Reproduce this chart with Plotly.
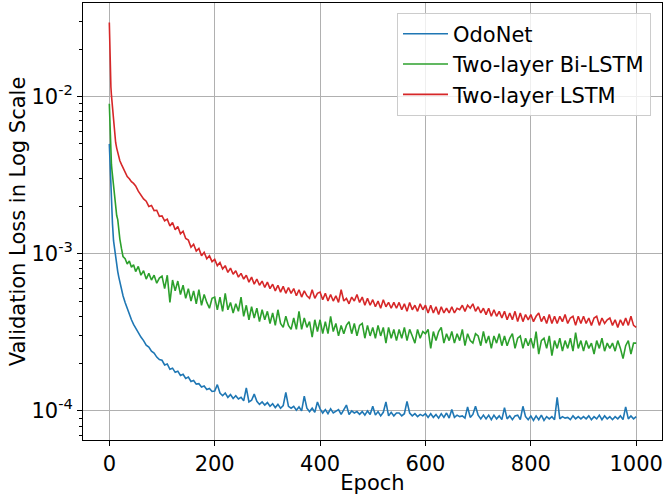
import plotly.graph_objects as go
import numpy as np

# Epoch sample positions
epochs_early = [0, 1, 2, 3, 4, 5, 6, 8, 10, 12, 14, 16, 18, 20, 23, 26, 30, 34, 38, 42,
                46, 50, 55, 60, 65, 70, 75, 80, 85, 90, 95]
epochs_late = list(range(100, 1001, 5))

# Validation loss values, in units of 1e-4
odonet_early = [50, 40, 33, 26.5, 21.3, 18, 15.5, 12.1, 10.6, 9.5, 8.5, 7.7, 7.1, 6.6, 6.0,
                5.4, 4.9, 4.45, 4.1, 3.8, 3.55, 3.35, 3.1, 2.95, 2.8, 2.62, 2.55, 2.4, 2.33,
                2.2, 2.12]
odonet_late = [
    2.10, 1.96, 1.99, 1.84, 1.87, 1.76, 1.79, 1.68, 1.71, 1.61,
    1.64, 1.54, 1.56, 1.48, 1.49, 1.42, 1.44, 1.37, 1.39, 1.33,
    1.34, 1.47, 1.30, 1.25, 1.30, 1.22, 1.27, 1.20, 1.25, 1.19,
    1.22, 1.16, 1.40, 1.14, 1.17, 1.28, 1.15, 1.10, 1.14, 1.09,
    1.13, 1.07, 1.11, 1.05, 1.10, 1.04, 1.08, 1.31, 1.07, 1.04,
    1.07, 1.01, 1.06, 1.00, 1.24, 1.04, 0.99, 1.04, 0.98, 1.14,
    1.03, 0.97, 1.02, 0.96, 1.03, 0.97, 1.00, 1.02, 0.95, 1.01,
    1.09, 0.95, 1.00, 0.97, 0.99, 0.95, 0.99, 0.94, 1.00, 0.95,
    1.07, 0.94, 0.99, 0.93, 0.98, 1.14, 0.93, 0.98, 0.93, 0.97,
    0.97, 0.93, 0.96, 1.15, 0.97, 0.93, 0.96, 0.92, 0.95, 0.93,
    0.96, 0.91, 0.96, 0.91, 0.95, 0.90, 0.96, 0.91, 0.97, 0.90,
    1.02, 0.91, 0.94, 0.92, 0.93, 0.90, 1.06, 0.91, 0.95, 1.07,
    0.94, 0.89, 0.94, 0.89, 0.94, 0.88, 0.94, 0.89, 0.93, 0.88,
    1.05, 0.89, 0.93, 0.88, 0.93, 0.94, 0.88, 1.07, 0.92, 0.88,
    0.93, 0.87, 0.93, 0.88, 0.94, 0.87, 0.92, 0.89, 0.92, 0.88,
    1.22, 0.89, 0.92, 0.90, 0.91, 0.88, 0.93, 0.89, 0.92, 0.89,
    0.92, 0.89, 0.93, 0.88, 0.92, 0.89, 0.94, 0.88, 0.93, 0.89,
    0.92, 0.88, 0.92, 0.89, 0.93, 0.88, 1.06, 0.89, 0.93, 0.89,
    0.92]

bilstm_early = [90, 65, 51, 43, 37, 34, 31.5, 26, 21.5, 19, 17.5, 16.5, 13.8, 12.4, 10.8,
                9.6, 9.3, 8.6, 9.0, 8.2, 8.5, 7.7, 8.3, 7.3, 7.8, 6.9, 7.5, 6.8, 7.3, 6.5, 7.0]
bilstm_late = [
    7.2, 6.0, 7.3, 4.9, 6.8, 5.8, 6.7, 5.5, 6.3, 5.2,
    6.0, 5.0, 5.8, 4.8, 5.9, 4.7, 5.5, 4.9, 4.5, 5.2,
    5.3, 4.4, 5.3, 4.3, 5.6, 4.4, 4.9, 4.2, 4.8, 4.3,
    5.3, 4.0, 4.7, 3.8, 4.6, 3.9, 4.5, 3.7, 4.4, 3.8,
    4.3, 3.6, 4.2, 3.5, 4.4, 3.6, 3.4, 4.0, 3.5, 3.3,
    3.9, 3.3, 4.3, 3.3, 3.9, 3.4, 3.7, 2.95, 3.8, 3.2,
    3.8, 3.1, 3.7, 3.1, 4.0, 3.2, 3.6, 3.0, 3.5, 3.1,
    3.5, 3.7, 3.1, 3.6, 3.0, 3.5, 3.6, 2.9, 3.5, 3.0,
    3.4, 2.9, 3.5, 3.0, 3.4, 2.7, 3.4, 2.9, 3.3, 2.8,
    3.3, 2.9, 3.4, 2.8, 3.3, 3.0, 2.7, 3.3, 2.9, 3.2,
    3.1, 3.3, 2.5, 3.2, 2.8, 3.2, 3.4, 2.7, 3.1, 2.8,
    3.2, 2.7, 3.1, 2.8, 3.3, 2.6, 3.1, 2.8, 2.7, 3.1,
    3.0, 2.6, 3.2, 2.7, 3.0, 2.5, 3.0, 2.7, 3.1, 2.6,
    3.0, 2.6, 2.9, 3.1, 2.5, 2.9, 3.0, 2.5, 2.9, 2.6,
    2.9, 2.5, 3.2, 2.3, 2.8, 2.9, 2.5, 3.0, 2.25, 2.8,
    2.5, 2.9, 2.4, 2.8, 2.5, 2.9, 2.4, 3.15, 2.5, 2.8,
    2.4, 2.8, 2.5, 2.7, 2.3, 2.8, 2.5, 2.9, 2.4, 2.7,
    2.5, 2.7, 2.4, 2.8, 2.5, 2.15, 2.6, 2.8, 2.3, 2.7,
    2.7]

lstm_early = [296, 190, 140, 115, 102, 94, 85, 70, 57, 51, 47, 44, 41, 39, 37, 35, 33, 31,
              30, 28.7, 28, 27, 25, 23.6, 22.3, 21.6, 20.0, 20.3, 18.8, 18.9, 17.3]
lstm_late = [
    17.4, 16.2, 16.6, 15.0, 15.8, 14.2, 14.9, 13.4, 13.9, 12.5,
    12.2, 11.0, 11.5, 10.4, 10.8, 9.7, 10.2, 9.3, 9.7, 8.9,
    9.2, 8.4, 8.8, 8.0, 8.4, 7.6, 8.1, 7.4, 7.8, 7.1,
    7.5, 6.9, 7.3, 6.6, 7.1, 6.4, 6.9, 6.3, 6.7, 6.1,
    6.6, 6.0, 6.4, 5.8, 6.3, 5.7, 6.2, 5.6, 6.1, 5.6,
    6.0, 5.4, 5.9, 5.3, 5.8, 5.4, 5.2, 5.9, 5.2, 5.6,
    5.7, 5.1, 5.6, 5.0, 5.5, 5.0, 5.4, 4.9, 5.9, 5.0,
    5.2, 4.8, 5.3, 5.0, 5.5, 4.9, 5.3, 4.7, 5.2, 4.7,
    5.1, 4.6, 5.0, 4.5, 5.1, 4.6, 4.9, 4.5, 4.9, 4.5,
    4.9, 4.4, 4.8, 4.3, 4.9, 4.4, 4.7, 4.3, 4.8, 4.4,
    4.7, 4.2, 4.7, 4.2, 4.6, 4.1, 4.6, 4.2, 4.5, 4.2,
    4.6, 4.2, 4.5, 4.4, 4.7, 4.3, 4.7, 4.5, 4.8, 4.3,
    4.6, 4.2, 4.5, 4.1, 4.5, 4.0, 4.4, 4.0, 4.3, 3.9,
    4.3, 3.8, 4.2, 3.8, 4.3, 3.7, 4.2, 3.7, 4.1, 3.8,
    4.1, 3.7, 4.0, 4.2, 3.7, 4.0, 3.6, 4.1, 3.6, 4.0,
    3.6, 4.0, 3.7, 4.1, 3.6, 3.9, 4.0, 3.5, 4.0, 3.6,
    4.0, 3.6, 3.9, 3.5, 3.9, 4.0, 3.5, 3.9, 3.6, 3.8,
    3.9, 3.5, 3.8, 3.4, 3.8, 3.5, 3.9, 3.5, 4.0, 3.5,
    3.4]

series_names = ["OdoNet", "Two-layer Bi-LSTM", "Two-layer LSTM"]
series_colors = ["#1f77b4", "#2ca02c", "#d62728"]
x_tick_vals = [0, 200, 400, 600, 800, 1000]
y_tick_vals = [1e-4, 1e-3, 1e-2]
y_tick_text = ["10<sup>-4</sup>", "10<sup>-3</sup>", "10<sup>-2</sup>"]
y_minor_vals = [m * d for d in (1e-5, 1e-4, 1e-3, 1e-2) for m in range(2, 10)]

epochs = epochs_early + epochs_late
unit = 1e-4
series_values = [
    np.array(odonet_early + odonet_late) * unit,
    np.array(bilstm_early + bilstm_late) * unit,
    np.array(lstm_early + lstm_late) * unit,
]

FONT = "DejaVu Sans"
FS = 21
fig = go.Figure()
for name, color, vals in zip(series_names, series_colors, series_values):
    fig.add_trace(go.Scatter(
        x=epochs, y=vals, mode="lines", name=name,
        line=dict(color=color, width=1.6),
    ))

fig.update_layout(
    width=663, height=498,
    margin=dict(l=83, r=1, t=3, b=58),
    paper_bgcolor="white", plot_bgcolor="white",
    font=dict(family=FONT, size=FS, color="black"),
    showlegend=True,
    legend=dict(
        x=0.981, y=0.978, xanchor="right", yanchor="top",
        bgcolor="rgba(255,255,255,0.8)", bordercolor="#cccccc", borderwidth=1,
        font=dict(family=FONT, size=FS, color="black"),
        itemwidth=45,
    ),
)
fig.update_xaxes(
    range=[-49.95, 1048.95],
    tickvals=x_tick_vals, ticks="outside", ticklen=5, tickwidth=1, tickcolor="black",
    showgrid=True, gridcolor="#b0b0b0", gridwidth=0.8,
    showline=True, linecolor="black", linewidth=1, mirror=True,
    zeroline=False,
    title=dict(text="Epoch", font=dict(family=FONT, size=FS), standoff=0),
    tickfont=dict(family=FONT, size=FS),
)
fig.update_yaxes(
    type="log", range=[-4.185, -1.405],
    tickvals=y_tick_vals, ticktext=y_tick_text,
    ticks="outside", ticklen=5, tickwidth=1, tickcolor="black",
    showgrid=True, gridcolor="#b0b0b0", gridwidth=0.8,
    showline=True, linecolor="black", linewidth=1, mirror=True,
    zeroline=False,
    minor=dict(tickvals=y_minor_vals, ticks="outside", ticklen=3, tickwidth=0.8,
               tickcolor="black", showgrid=False),
    title=dict(text="Validation Loss in Log Scale", font=dict(family=FONT, size=FS), standoff=0),
    tickfont=dict(family=FONT, size=FS),
)

fig.write_html("out.html")
